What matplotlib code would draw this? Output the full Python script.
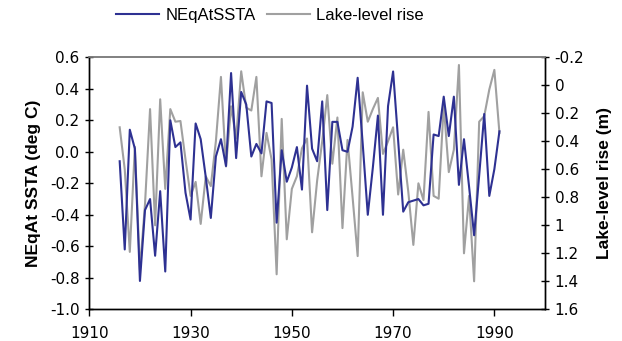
import matplotlib
matplotlib.use("Agg")
import matplotlib.pyplot as plt
from matplotlib.ticker import FixedLocator, FuncFormatter
import numpy as np

years = list(range(1916, 1992))

nequat_ssta = [
    -0.06, -0.62, 0.14, 0.02, -0.82, -0.37, -0.30, -0.66, -0.25, -0.76,
    0.20, 0.03, 0.06, -0.26, -0.43, 0.18, 0.08, -0.16, -0.42, -0.03,
    0.08, -0.09, 0.50, -0.04, 0.38, 0.30, -0.03, 0.05, -0.01, 0.32,
    0.31, -0.45, 0.01, -0.19, -0.10, 0.03, -0.24, 0.42, 0.02, -0.06,
    0.32, -0.37, 0.19, 0.19, 0.01, 0.00, 0.16, 0.47, 0.05, -0.40,
    -0.10, 0.23, -0.40, 0.29, 0.51, 0.07, -0.38, -0.32, -0.31, -0.30,
    -0.34, -0.33, 0.11, 0.10, 0.35, 0.10, 0.35, -0.21, 0.08, -0.22,
    -0.53, -0.15, 0.24, -0.28, -0.11, 0.13,
]

lake_level_rise = [
    0.30, 0.60, 1.19, 0.44, 1.32, 0.85, 0.17, 1.00, 0.10, 0.74,
    0.17, 0.26, 0.255, 0.53, 0.79, 0.69, 0.99, 0.65, 0.72, 0.40,
    -0.06, 0.58, 0.15, 0.38, -0.10, 0.16, 0.18, -0.06, 0.65, 0.34,
    0.53, 1.35, 0.24, 1.10, 0.74, 0.65, 0.45, 0.38, 1.05, 0.68,
    0.40, 0.07, 0.56, 0.23, 1.02, 0.39, 0.80, 1.22, 0.05, 0.26,
    0.17, 0.09, 0.49, 0.40, 0.30, 0.78, 0.46, 0.76, 1.14, 0.70,
    0.82, 0.19, 0.79, 0.81, 0.14, 0.62, 0.46, -0.145, 1.20, 0.79,
    1.40, 0.26, 0.22, 0.03, -0.11, 0.34,
]

x_ticks = [1910, 1930, 1950, 1970, 1990]
left_ticks = [0.6, 0.4, 0.2, 0.0, -0.2, -0.4, -0.6, -0.8, -1.0]
right_ticks = [-0.2, 0, 0.2, 0.4, 0.6, 0.8, 1, 1.2, 1.4, 1.6]

blue = "#2E3192"
grey = "#A0A0A0"

fig = plt.figure(figsize=(6.22, 3.41), dpi=100)
ax = fig.add_axes([89.3 / 622, 1 - 309.3 / 341, (545 - 89.3) / 622, (309.3 - 57.3) / 341])
ax2 = ax.twinx()

l1, = ax.plot(years, nequat_ssta, color=blue, lw=1.5, label="NEqAtSSTA", zorder=3)
l2, = ax2.plot(years, lake_level_rise, color=grey, lw=1.5, label="Lake-level rise", zorder=2)
ax.set_zorder(ax2.get_zorder() + 1)
ax.patch.set_visible(False)

ax.set_xlim(1910, 2000)
ax.set_ylim(-1.0, 0.6)
ax2.set_ylim(1.6, -0.2)

ax.xaxis.set_major_locator(FixedLocator(x_ticks))
ax.yaxis.set_major_locator(FixedLocator(left_ticks))
ax.yaxis.set_major_formatter(FuncFormatter(lambda v, p: f"{v:.1f}"))
ax2.yaxis.set_major_locator(FixedLocator(right_ticks))
ax2.yaxis.set_major_formatter(FuncFormatter(lambda v, p: f"{v:g}"))

ax.tick_params(axis="x", direction="out", length=5, width=1, pad=7, labelsize=11)
ax.tick_params(axis="y", direction="inout", length=6, width=1, pad=4, labelsize=11)
ax2.tick_params(axis="y", direction="inout", length=6, width=1, pad=4, labelsize=11)

for a in (ax, ax2):
    for lab in a.get_xticklabels() + a.get_yticklabels():
        lab.set_fontfamily("DejaVu Sans")
    for s in ("left", "right", "bottom"):
        a.spines[s].set_color("black")
        a.spines[s].set_linewidth(1)
    a.spines["top"].set_color("#808080")
    a.spines["top"].set_linewidth(1.2)

ax.set_ylabel("NEqAt SSTA (deg C)", fontsize=12.5, fontweight="bold",
              family="Liberation Sans", labelpad=6)
ax2.set_ylabel("Lake-level rise (m)", fontsize=12.5, fontweight="bold",
               family="Liberation Sans", labelpad=9)

fig.legend(handles=[l1, l2], loc="center", bbox_to_anchor=(0.434, 0.955),
           ncol=2, frameon=False, prop=dict(family="Liberation Sans", size=12),
           handlelength=2.6, handletextpad=0.35, columnspacing=0.7)

fig.savefig("out.png", dpi=100)
